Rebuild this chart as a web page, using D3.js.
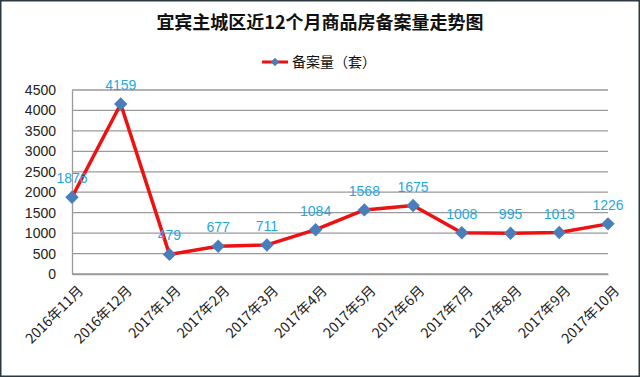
<!DOCTYPE html>
<html>
<head>
<meta charset="utf-8">
<script src="https://cdn.jsdelivr.net/npm/d3@7"></script>
<style>
  body { margin: 0; background: #fff; }
  text { font-family: "Noto Sans CJK SC", "Noto Sans", sans-serif; }
</style>
</head>
<body>
<script>
var months = ["2016年11月", "2016年12月", "2017年1月", "2017年2月", "2017年3月", "2017年4月",
              "2017年5月", "2017年6月", "2017年7月", "2017年8月", "2017年9月", "2017年10月"];
var counts = [1876, 4159, 479, 677, 711, 1084, 1568, 1675, 1008, 995, 1013, 1226];
var yTicks = [0, 500, 1000, 1500, 2000, 2500, 3000, 3500, 4000, 4500];

var width = 640;
var height = 377;
var marginLeft = 72;
var marginTop = 90;
var plotW = 536;
var plotH = 184;

var svg = d3.select("body").append("svg")
    .attr("width", width)
    .attr("height", height);

svg.append("rect")
    .attr("x", 0.5).attr("y", 0.5)
    .attr("width", width - 1).attr("height", height - 1)
    .attr("fill", "#fff")
    .attr("stroke", "#2b3a40")
    .attr("stroke-width", 2);

svg.append("text")
    .attr("x", 320).attr("y", 29)
    .attr("text-anchor", "middle")
    .attr("font-size", 18)
    .attr("font-weight", "bold")
    .attr("fill", "#111")
    .text("宜宾主城区近12个月商品房备案量走势图");

// diamond marker = rotated square
var diamond = function (s) {
    return d3.symbol().type(d3.symbolSquare).size(s)();
};

// legend
var legend = svg.append("g").attr("transform", "translate(262,62)");
legend.append("line")
    .attr("x1", 0).attr("x2", 26)
    .attr("stroke", "#ee1111").attr("stroke-width", 3);
legend.append("path")
    .attr("d", diamond(36))
    .attr("transform", "translate(13,0) rotate(45)")
    .attr("fill", "#4a7ebb");
legend.append("text")
    .attr("x", 30).attr("y", 5)
    .attr("font-size", 14)
    .attr("fill", "#111")
    .text("备案量（套）");

var g = svg.append("g")
    .attr("transform", "translate(" + marginLeft + "," + marginTop + ")");

var xScale = d3.scalePoint().domain(months).range([0, plotW]);
var yScale = d3.scaleLinear().domain([0, 4500]).range([plotH, 0]);

// gridlines
g.selectAll(".grid")
    .data(yTicks)
    .enter().append("line")
    .attr("x1", 0).attr("x2", plotW)
    .attr("y1", d => yScale(d)).attr("y2", d => yScale(d))
    .attr("stroke", "#9a9a9a")
    .attr("stroke-width", 1.3);

var yAxis = d3.axisLeft(yScale).tickValues(yTicks).tickFormat(d3.format("d")).tickSize(0).tickPadding(16);
var yG = g.append("g").call(yAxis);
yG.select(".domain").attr("stroke", "#9a9a9a").attr("stroke-width", 1.3);
yG.selectAll("text")
    .attr("font-size", 14)
    .attr("fill", "#222")
    .style("font-family", "'Liberation Sans', sans-serif");

var xAxis = d3.axisBottom(xScale).tickSize(0).tickPadding(6);
var xG = g.append("g").attr("transform", "translate(0," + plotH + ")").call(xAxis);
xG.select(".domain").attr("stroke", "#9a9a9a").attr("stroke-width", 1.3);
xG.selectAll("text")
    .attr("font-size", 14)
    .attr("fill", "#222")
    .attr("text-anchor", "end")
    .attr("transform", "translate(4,10) rotate(-45)")
    .attr("dy", "0.35em");

var line = d3.line()
    .x((d, i) => xScale(months[i]))
    .y(d => yScale(d));

g.append("path")
    .datum(counts)
    .attr("fill", "none")
    .attr("stroke", "#ee1111")
    .attr("stroke-width", 3.5)
    .attr("stroke-linejoin", "round")
    .attr("d", line);

g.selectAll(".pt")
    .data(counts)
    .enter().append("path")
    .attr("d", diamond(90))
    .attr("transform", (d, i) => "translate(" + xScale(months[i]) + "," + yScale(d) + ") rotate(45)")
    .attr("fill", "#4a7ebb");

g.selectAll(".lbl")
    .data(counts)
    .enter().append("text")
    .attr("x", (d, i) => xScale(months[i]))
    .attr("y", d => yScale(d) - 14)
    .attr("text-anchor", "middle")
    .attr("font-size", 14)
    .attr("fill", "#1ea8e0")
    .style("font-family", "'Liberation Sans', sans-serif")
    .text(d => d);
</script>
</body>
</html>
